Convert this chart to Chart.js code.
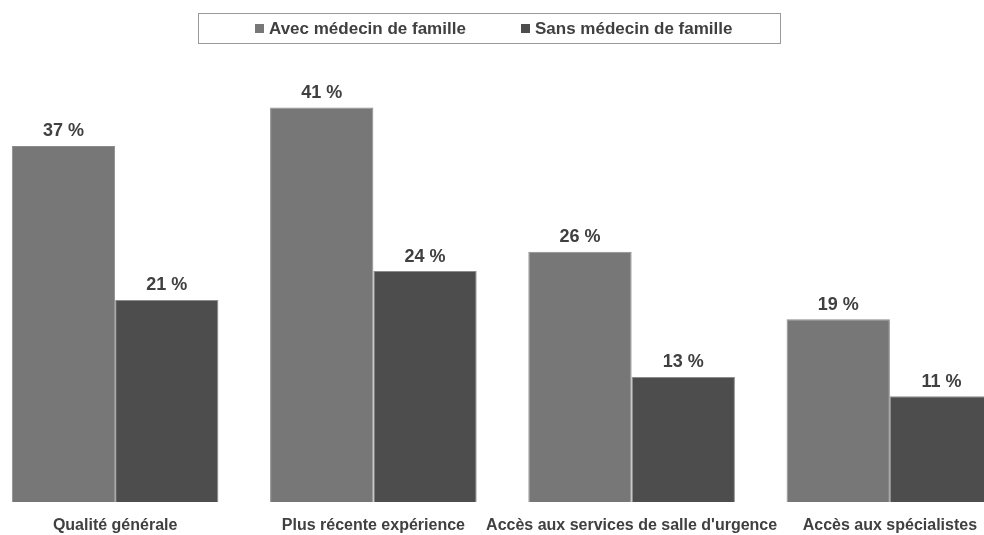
<!DOCTYPE html>
<html><head><meta charset="utf-8">
<script src="https://cdn.jsdelivr.net/npm/chart.js@4/dist/chart.umd.min.js"></script>
<style>
html,body{margin:0;padding:0;background:#fff;overflow:hidden;width:984px;height:535px;}
#c{position:absolute;left:-14px;top:0;}
</style></head>
<body><canvas id="c" width="1033" height="535"></canvas>
<script>
const categories = ["Qualité générale", "Plus récente expérience", "Accès aux services de salle d'urgence", "Accès aux spécialistes"];
const seriesNames = ["Avec médecin de famille", "Sans médecin de famille"];
const avecValues = [37, 41, 26, 19];
const sansValues = [21, 24, 13, 11];
const colors = ["#777777", "#4d4d4d"];
const textColor = "#404040";
const FONT = "'Liberation Sans', Arial, sans-serif";

const valueLabels = {
  id: 'valueLabels',
  afterDatasetsDraw(chart) {
    const ctx = chart.ctx;
    ctx.save();
    ctx.font = "bold 18px " + FONT;
    ctx.fillStyle = textColor;
    ctx.textAlign = 'center';
    ctx.textBaseline = 'alphabetic';
    chart.data.datasets.forEach((ds, i) => {
      chart.getDatasetMeta(i).data.forEach((bar, j) => {
        ctx.fillText(ds.data[j] + " %", bar.x, bar.y - 9.5);
      });
    });
    ctx.restore();
  }
};

const boxLegend = {
  id: 'boxLegend',
  afterDraw(chart) {
    const ctx = chart.ctx;
    const off = 14;
    ctx.save();
    ctx.strokeStyle = "#9a9a9a";
    ctx.lineWidth = 1;
    ctx.strokeRect(198.5 + off, 13.5, 582, 30);
    ctx.font = "bold 17px " + FONT;
    ctx.textBaseline = 'middle';
    const starts = [255, 521];
    chart.data.datasets.forEach((ds, i) => {
      ctx.fillStyle = ds.backgroundColor;
      ctx.fillRect(starts[i] + off, 24, 9, 9);
      ctx.fillStyle = textColor;
      ctx.fillText(ds.label, starts[i] + off + 14, 29.5);
    });
    ctx.restore();
  }
};

new Chart(document.getElementById('c'), {
  type: 'bar',
  data: {
    labels: categories,
    datasets: [
      { label: seriesNames[0], data: avecValues, backgroundColor: colors[0], borderColor: "#8c8c8c", borderWidth: 1 },
      { label: seriesNames[1], data: sansValues, backgroundColor: colors[1], borderColor: "#8c8c8c", borderWidth: 1 }
    ]
  },
  options: {
    responsive: false,
    animation: false,
    layout: { padding: { top: 69, left: 0, right: 0, bottom: 0 } },
    plugins: { legend: { display: false }, tooltip: { enabled: false } },
    datasets: { bar: { categoryPercentage: 0.8, barPercentage: 1.0 } },
    scales: {
      x: {
        grid: { display: false, drawTicks: false },
        border: { display: false },
        ticks: { color: textColor, font: { family: FONT, size: 16, weight: 'bold' }, padding: 14, maxRotation: 0, minRotation: 0, autoSkip: false },
        afterFit(scale) { scale.height = 33; }
      },
      y: { display: false, min: 0, max: 45 }
    }
  },
  plugins: [valueLabels, boxLegend]
});
</script>
</body></html>
